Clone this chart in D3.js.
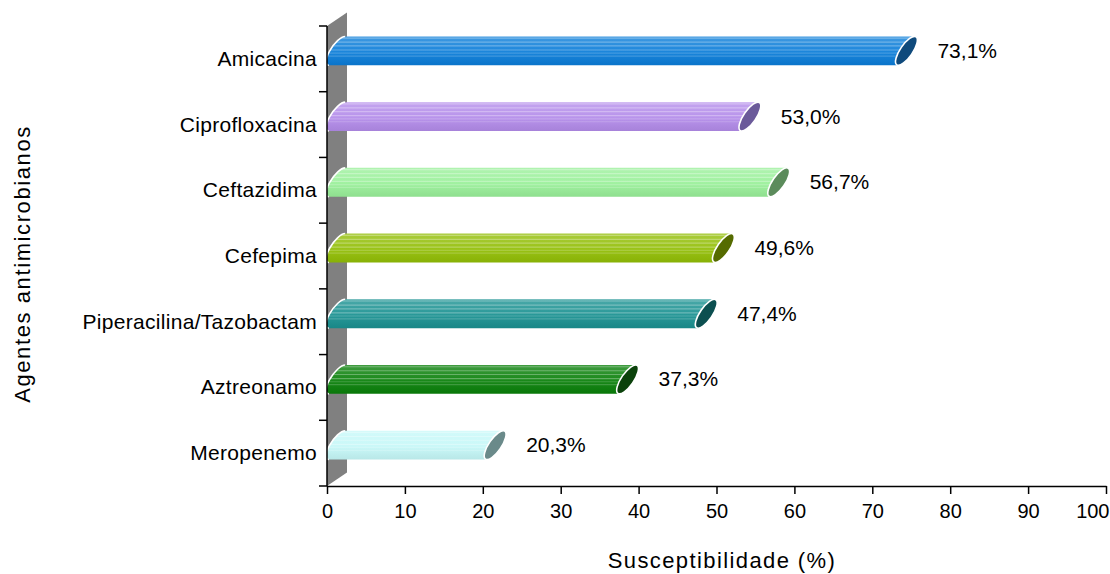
<!DOCTYPE html>
<html>
<head>
<meta charset="utf-8">
<script src="https://cdn.jsdelivr.net/npm/d3@7"></script>
<style>
  html, body { margin: 0; padding: 0; background: #fff; }
  svg { display: block; font-family: "Liberation Sans", Arial, sans-serif; }
</style>
</head>
<body>
<svg id="chart" width="1110" height="574"></svg>
<script>
// Susceptibility per antimicrobial agent (%)
const categories = ["Amicacina", "Ciprofloxacina", "Ceftazidima", "Cefepima",
                    "Piperacilina/Tazobactam", "Aztreonamo", "Meropenemo"];
const values = [73.1, 53.0, 56.7, 49.6, 47.4, 37.3, 20.3];
const valueLabels = ["73,1%", "53,0%", "56,7%", "49,6%", "47,4%", "37,3%", "20,3%"];
const xTicks = [0, 10, 20, 30, 40, 50, 60, 70, 80, 90, 100];
const bodyColors = ["#0B7DD9", "#B38CEA", "#9AF09A", "#92BE06", "#1A9191", "#0A800A", "#C6F8F8"];
const capColors  = ["#0F4A7C", "#6B5A9A", "#5B8B5B", "#556B00", "#0C4F50", "#0B420B", "#6A8A8A"];

const svg = d3.select("#chart");
const plot = { left: 327, right: 1106, top: 26, bottom: 486 };
const depth = { dx: 20, dy: -13.5 };

const x = d3.scaleLinear().domain([0, 100]).range([plot.left, plot.right]);
const y = d3.scaleBand().domain(categories).range([plot.top, plot.bottom]).paddingInner(0).paddingOuter(0);

// Back wall (grey, receding into depth)
svg.append("path")
  .attr("d", `M${plot.left},${plot.top} L${plot.left + depth.dx},${plot.top + depth.dy}
              L${plot.left + depth.dx},${plot.bottom + depth.dy} L${plot.left},${plot.bottom} Z`)
  .attr("fill", "#808080");

// Cylinder end-cap ellipse geometry
const capA = 17, capB = 6.2;
const theta = Math.atan2(-29, 20);           // major axis tilt
const thetaDeg = theta * 180 / Math.PI;
function ellPoint(cx, cy, t) {
  return [cx + capA * Math.cos(t) * Math.cos(theta) - capB * Math.sin(t) * Math.sin(theta),
          cy + capA * Math.cos(t) * Math.sin(theta) + capB * Math.sin(t) * Math.cos(theta)];
}
// parameter of the lowest / highest point of the ellipse
const tExt = Math.atan2(capB * Math.cos(theta), capA * Math.sin(theta));
function extremes(cx, cy) {
  const p1 = ellPoint(cx, cy, tExt), p2 = ellPoint(cx, cy, tExt + Math.PI);
  return p1[1] < p2[1] ? { top: p1, bot: p2 } : { top: p2, bot: p1 };
}

const defs = svg.append("defs");
const barOffset = -8;   // bar centre relative to band centre

categories.forEach((cat, i) => {
  const cy = y(cat) + y.bandwidth() / 2 + barOffset;
  const xv = x(values[i]);
  const lc = plot.left + depth.dx / 2;
  const rc = xv + depth.dx / 2;
  const L = extremes(lc, cy), R = extremes(rc, cy);

  const body = `M${L.bot[0]},${L.bot[1]} L${R.bot[0]},${R.bot[1]}
    A${capA},${capB} ${thetaDeg} 0 0 ${R.top[0]},${R.top[1]}
    L${L.top[0]},${L.top[1]}
    A${capA},${capB} ${thetaDeg} 0 0 ${L.bot[0]},${L.bot[1]} Z`;

  const base = d3.color(bodyColors[i]);
  const gid = "g" + i;
  const grad = defs.append("linearGradient").attr("id", gid)
    .attr("x1", 0).attr("y1", 0).attr("x2", 0).attr("y2", 1);
  grad.append("stop").attr("offset", "0%").attr("stop-color", d3.interpolateRgb(base, "#fff")(0.22));
  grad.append("stop").attr("offset", "55%").attr("stop-color", d3.interpolateRgb(base, "#fff")(0.06));
  grad.append("stop").attr("offset", "100%").attr("stop-color", base.darker(0.2));

  const cid = "c" + i;
  defs.append("clipPath").attr("id", cid).append("path").attr("d", body);

  const g = svg.append("g");
  g.append("path").attr("d", body).attr("fill", `url(#${gid})`);

  // light horizontal streaks along the cylinder
  const top = L.top[1], bot = L.bot[1], h = bot - top;
  const streaks = g.append("g").attr("clip-path", `url(#${cid})`);
  [0.06, 0.2, 0.33, 0.47, 0.58, 0.68].forEach((f, k) => {
    streaks.append("line")
      .attr("x1", plot.left).attr("x2", rc + capA)
      .attr("y1", top + f * h).attr("y2", top + f * h)
      .attr("stroke", "#fff").attr("stroke-opacity", k < 4 ? 0.3 : 0.18)
      .attr("stroke-width", 1.2);
  });

  // white rim on the near (left) end
  g.append("path")
    .attr("d", `M${L.top[0]},${L.top[1]} A${capA},${capB} ${thetaDeg} 0 0 ${L.bot[0]},${L.bot[1]}`)
    .attr("fill", "none").attr("stroke", "#fff").attr("stroke-width", 1.6);

  // far end cap
  g.append("ellipse")
    .attr("cx", 0).attr("cy", 0).attr("rx", capA).attr("ry", capB)
    .attr("transform", `translate(${rc},${cy}) rotate(${thetaDeg})`)
    .attr("fill", capColors[i]).attr("stroke", "#fff").attr("stroke-width", 1.6);

  // value label
  svg.append("text")
    .attr("x", xv + 41).attr("y", cy + 7)
    .attr("font-size", 21).attr("fill", "#000")
    .text(valueLabels[i]);
});

// Category axis
const yAxis = svg.append("g").attr("transform", `translate(${plot.left},0)`);
yAxis.append("line").attr("x1", 0).attr("x2", 0).attr("y1", plot.top).attr("y2", plot.bottom)
  .attr("stroke", "#000").attr("stroke-width", 1.5);
const bounds = categories.map(c => y(c)).concat([plot.bottom]);
yAxis.selectAll("line.tick").data(bounds).join("line").attr("class", "tick")
  .attr("x1", -8).attr("x2", 0).attr("y1", d => d).attr("y2", d => d)
  .attr("stroke", "#000").attr("stroke-width", 1.5);
yAxis.selectAll("text").data(categories).join("text")
  .attr("x", -10).attr("y", d => y(d) + y.bandwidth() / 2 + 7)
  .attr("text-anchor", "end").attr("font-size", 21).attr("letter-spacing", 0.3).text(d => d);

// Value axis
const xAxis = svg.append("g").attr("transform", `translate(0,${plot.bottom})`)
  .call(d3.axisBottom(x).tickValues(xTicks).tickSize(8).tickSizeOuter(0).tickPadding(10));
xAxis.select(".domain").attr("stroke", "#000").attr("stroke-width", 1.5);
xAxis.selectAll(".tick line").attr("stroke", "#000").attr("stroke-width", 1.5);
xAxis.selectAll(".tick text").attr("font-size", 20).attr("fill", "#000")
  .attr("font-family", "Liberation Sans, Arial, sans-serif");
// keep the last tick label inside the canvas
xAxis.selectAll(".tick text").filter(d => d === 100).attr("text-anchor", "end").attr("dx", 3);

// Axis titles
svg.append("text").attr("x", 722).attr("y", 568)
  .attr("text-anchor", "middle").attr("font-size", 22).attr("letter-spacing", 1.4)
  .text("Susceptibilidade (%)");
svg.append("text").attr("transform", "translate(30,264) rotate(-90)")
  .attr("text-anchor", "middle").attr("font-size", 22).attr("letter-spacing", 1.6)
  .text("Agentes antimicrobianos");
</script>
</body>
</html>
